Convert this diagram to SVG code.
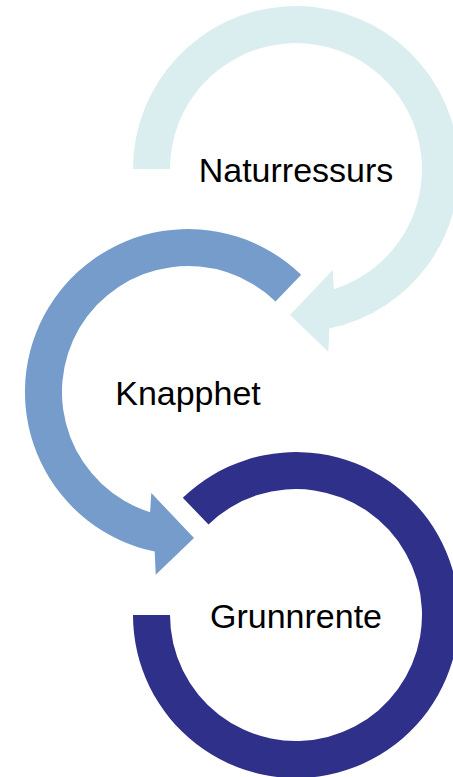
<svg xmlns="http://www.w3.org/2000/svg" width="453" height="777" viewBox="0 0 453 777">
<style>
.lbl{font-family:"Liberation Sans",Arial,sans-serif;font-size:34px;fill:#000;text-anchor:middle}
.c1{fill:#DAEDEF}
.c2{fill:#759CCA}
.c3{fill:#2E3089}
</style>
<rect width="453" height="777" fill="#FFFFFF"/>
<g id="node-naturressurs">
<path class="c1" d="M133,169 A163,163 0 1,1 329.3,328.6 L328.3,351.7 L290,315 L332.7,270 L333.9,289.2 A126,126 0 1,0 170,169 Z"/>
<text class="lbl" x="296" y="181.5">Naturressurs</text>
</g>
<g id="node-knapphet">
<path class="c2" d="M301.2,274.8 A163,163 0 1,0 154.7,551.6 L155.7,574.7 L194,538 L151.3,493 L150.1,512.2 A126,126 0 1,1 275.5,301.4 Z"/>
<text class="lbl" x="188" y="404.5">Knapphet</text>
</g>
<g id="node-grunnrente">
<path class="c3" d="M133,615 A163,163 0 1,0 182.8,497.8 L208.5,524.4 A126,126 0 1,1 170,615 Z"/>
<text class="lbl" x="296" y="628">Grunnrente</text>
</g>
<g id="connectors"></g>
</svg>
